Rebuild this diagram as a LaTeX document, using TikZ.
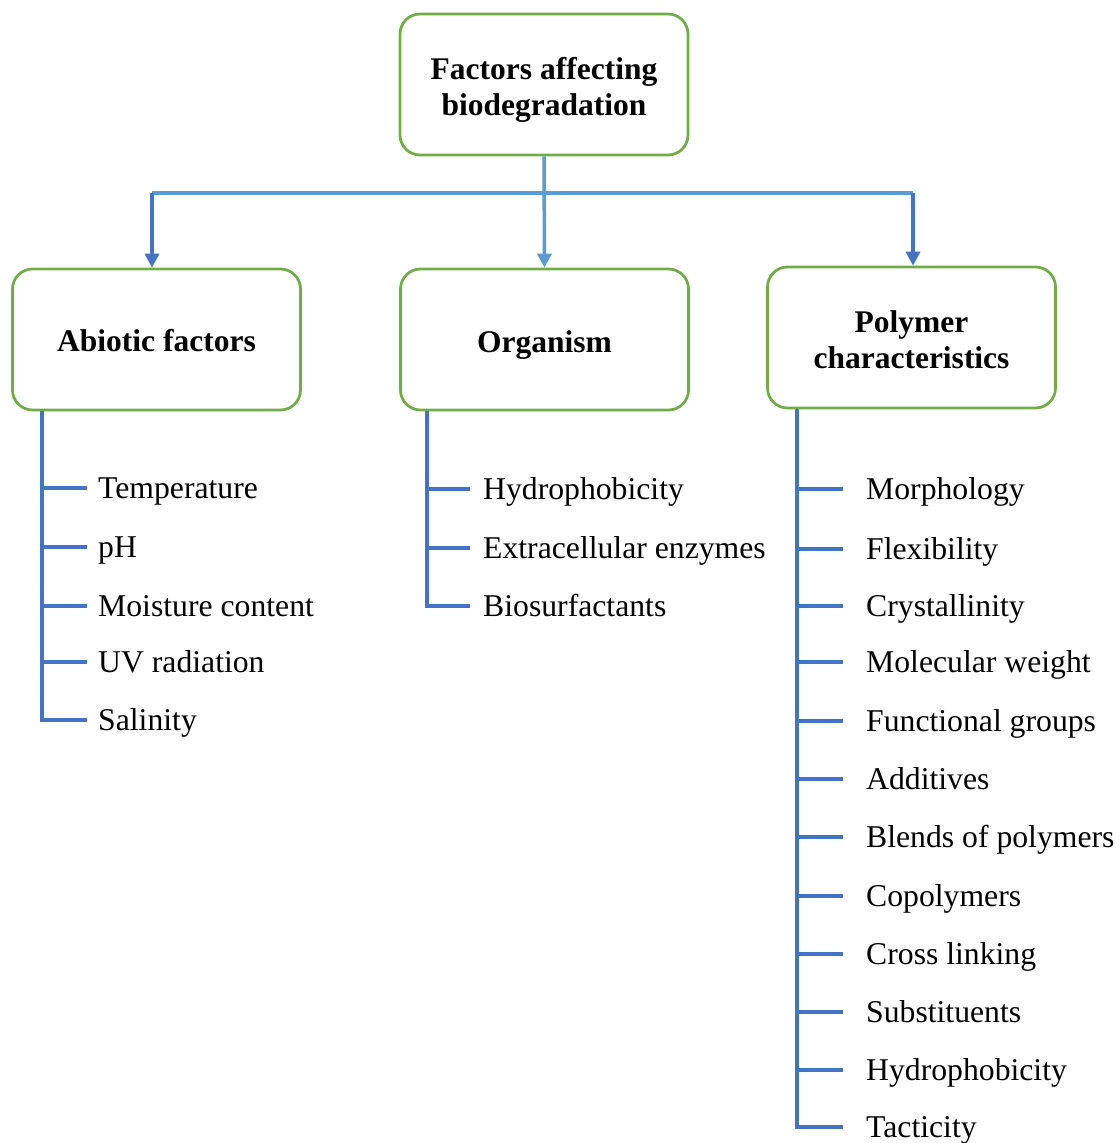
\documentclass[tikz,border=0pt]{standalone}
\usepackage{fontspec}
\setmainfont{Liberation Serif}
\usetikzlibrary{arrows.meta}
\definecolor{boxgreen}{HTML}{70AD47}
\definecolor{darkblue}{HTML}{4472C4}
\definecolor{lightblue}{HTML}{5B9BD5}
% box caption whose baseline sits #1 below the box centre
\newcommand{\boxcaption}[2]{\raisebox{-#1}[0pt][0pt]{#2}}
\begin{document}
\begin{tikzpicture}[x=1pt,y=-1pt,
  catbox/.style={draw=boxgreen, line width=2.75pt, rounded corners=20pt,
    minimum width=288pt, minimum height=141pt, align=center,
    font=\fontsize{31.5}{36}\selectfont\bfseries, inner sep=0pt},
  item/.style={anchor=west, inner sep=0pt, text height=24pt, text depth=4pt,
    font=\fontsize{31.7}{36}\selectfont},
  spine/.style={draw=darkblue, line width=3.5pt},
  feed/.style={draw=lightblue, line width=3.5pt},
  drop/.style={draw=darkblue, line width=3.5pt},
  tip/.style={-{Triangle[width=14pt,length=14pt]}}]
\useasboundingbox (0,0) rectangle (1119,1143);

% category boxes
\node[catbox] (top) at (544,84.5) {\boxcaption{12.4pt}{\begin{tabular}{@{}c@{}}Factors affecting\\biodegradation\end{tabular}}};
\node[catbox] (abio) at (156.5,339.5) {\boxcaption{12.4pt}{Abiotic factors}};
\node[catbox] (org) at (544.5,339.5) {\boxcaption{13.2pt}{Organism}};
\node[catbox] (poly) at (911.5,337.5) {\boxcaption{12.4pt}{\begin{tabular}{@{}c@{}}Polymer\\characteristics\end{tabular}}};

% distribution bar with the three arrows
\coordinate (hub) at (top.south |- 0,193);
\coordinate (la) at ([xshift=-4.5pt]abio.north);
\coordinate (ra) at ([xshift=1.5pt]poly.north);
\draw[feed] (la |- hub) -- (ra |- hub);
\draw[feed,tip] (top.south) -- (org.north);
\draw[drop,tip] (la |- hub) -- (la);
\draw[drop,tip] (ra |- hub) -- (ra);

% abiotic factors list
\node[item] (a1) at (98,488) {Temperature};
\node[item] (a2) at (98,547) {pH};
\node[item] (a3) at (98,606) {Moisture content};
\node[item] (a4) at (98,662) {UV radiation};
\node[item] (a5) at (98,720) {Salinity};
\coordinate (sa) at ([xshift=31pt]abio.south west);
\draw[spine] (sa) -- (sa |- a5) -- ([xshift=-11pt]a5.west);
\foreach \n in {a1,a2,a3,a4}
  \draw[spine] (sa |- \n) -- ([xshift=-11pt]\n.west);

% organism list
\node[item] (o1) at (483,489) {Hydrophobicity};
\node[item] (o2) at (483,548) {Extracellular enzymes};
\node[item] (o3) at (483,606) {Biosurfactants};
\coordinate (so) at ([xshift=28pt]org.south west);
\draw[spine] (so) -- (so |- o3) -- ([xshift=-13pt]o3.west);
\foreach \n in {o1,o2}
  \draw[spine] (so |- \n) -- ([xshift=-13pt]\n.west);

% polymer characteristics list
\node[item] (p1) at (866,489) {Morphology};
\node[item] (p2) at (866,549) {Flexibility};
\node[item] (p3) at (866,606) {Crystallinity};
\node[item] (p4) at (866,662) {Molecular weight};
\node[item] (p5) at (866,721) {Functional groups};
\node[item] (p6) at (866,779) {Additives};
\node[item] (p7) at (866,837) {Blends of polymers};
\node[item] (p8) at (866,896) {Copolymers};
\node[item] (p9) at (866,954) {Cross linking};
\node[item] (p10) at (866,1012) {Substituents};
\node[item] (p11) at (866,1070) {Hydrophobicity};
\node[item] (p12) at (866,1127) {Tacticity};
\coordinate (sp) at ([xshift=31pt]poly.south west);
\draw[spine] (sp) -- (sp |- p12) -- ([xshift=-23pt]p12.west);
\foreach \n in {p1,p2,p3,p4,p5,p6,p7,p8,p9,p10,p11}
  \draw[spine] (sp |- \n) -- ([xshift=-23pt]\n.west);
\end{tikzpicture}
\end{document}
